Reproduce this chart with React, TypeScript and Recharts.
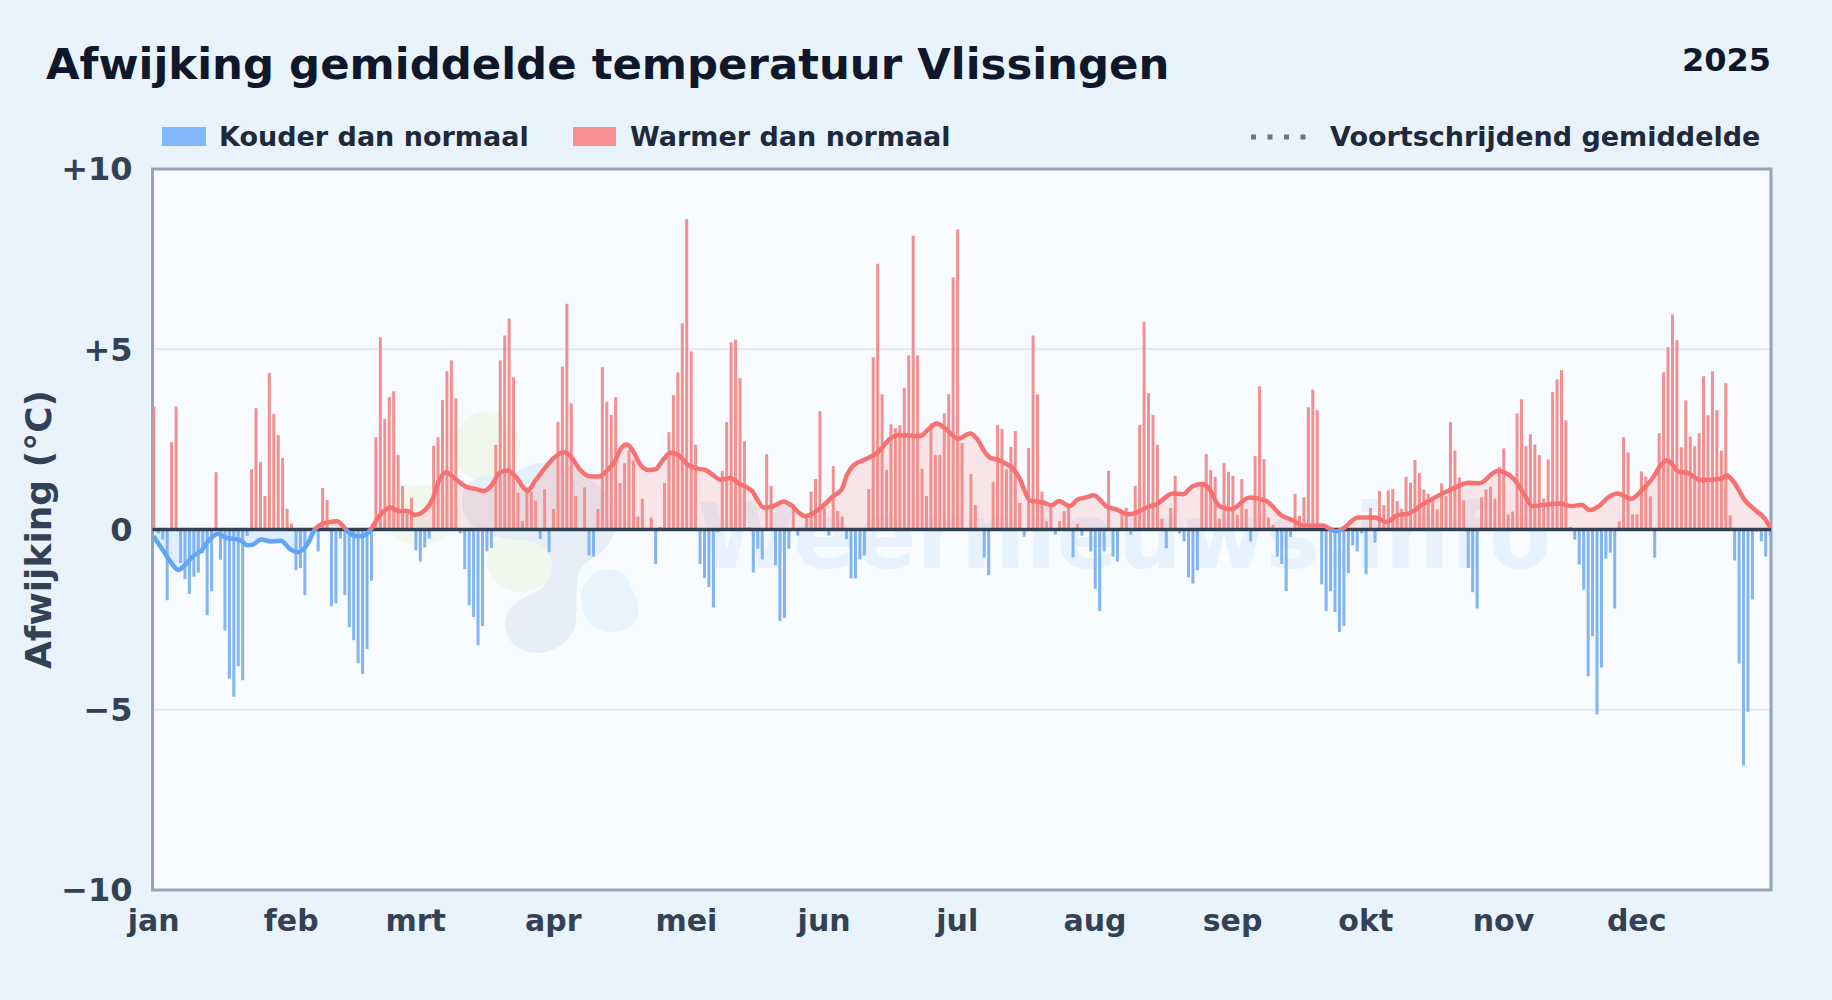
import { Area, Bar, CartesianGrid, ComposedChart, Line, ReferenceArea, ReferenceLine, XAxis, YAxis } from 'recharts';

const fontFamily = '"DejaVu Sans", sans-serif';

const monthLabels = ['jan', 'feb', 'mrt', 'apr', 'mei', 'jun', 'jul', 'aug', 'sep', 'okt', 'nov', 'dec'];
const monthStarts = [0, 31, 59, 90, 120, 151, 181, 212, 243, 273, 304, 334];
const yTicks = [-10, -5, 0, 5, 10];
const dayDomain = [-0.25, 364.25];

// afwijking per dag (deg C)
const dailyAnomaly = [
    3.41, -0.11, -0.28, -1.96, 2.42, 3.41, -0.93, -1.38, -1.79, -1.31,
    -1.19, -0.65, -2.38, -1.71, 1.59, -0.84, -2.8, -4.13, -4.64, -3.79,
    -4.18, -0.18, 1.67, 3.36, 1.87, 0.93, 4.34, 3.2, 2.62, 1.98,
    0.57, 0.16, -1.13, -1.07, -1.82, 0, 0, -0.61, 1.15, 0.82,
    -2.13, -2.05, -0.25, -1.82, -2.71, -3.07, -3.71, -4.01, -3.32, -1.42,
    2.56, 5.33, 3.07, 3.67, 3.83, 2.07, 1.21, 0.47, 0.88, -0.58,
    -0.89, -0.5, -0.25, 2.32, 2.56, 3.59, 4.39, 4.69, 3.64, -0.11,
    -1.1, -2.1, -2.43, -3.21, -2.68, -0.61, -0.51, 2.35, 4.69, 5.38,
    5.85, 4.22, 1.02, 0.24, 1.17, 1.05, 0.8, -0.26, 1.12, -0.63,
    0.57, 2.98, 4.52, 6.26, 3.5, 0.93, 0, 1.17, -0.72, -0.75,
    0.57, 4.5, 3.54, 3.18, 3.67, 1.29, 1.84, 2.2, 1.92, 0.36,
    0.85, 0, 0.33, -0.96, 0.07, 1.29, 2.7, 3.73, 4.36, 5.72,
    8.61, 4.94, 2.35, -0.96, -1.35, -1.6, -2.16, -0.08, 1.63, 2.98,
    5.19, 5.27, 4.2, 2.45, 0.07, -1.19, -0.53, -0.83, 2.09, 1.21,
    -0.99, -2.54, -2.46, -0.53, 0.7, -0.17, 0, 0.42, 1.05, 1.4,
    3.28, 0.6, -0.17, 1.76, 0.51, 0.36, -0.27, -1.36, -1.36, -0.83,
    -0.72, 1.12, 4.78, 7.37, 3.75, 1.65, 2.92, 2.81, 2.89, 3.93,
    4.83, 8.15, 4.83, 1.68, 0.93, 2.94, 2.07, 2.07, 3.22, 3.75,
    6.99, 8.32, 2.4, 0, 1.54, 0.68, 0, -0.78, -1.27, 1.32,
    2.9, 2.79, 1.67, 2.29, 2.73, 0.74, -0.2, 2.26, 5.38, 3.75,
    1.05, 0.23, 0.65, -0.14, 0.23, 0.51, 0.61, -0.77, 0.16, -0.17,
    0, -0.61, -1.65, -2.26, -0.61, 1.63, -0.75, -0.89, 0.44, 0.6,
    -0.14, 1.21, 2.9, 5.76, 3.78, 3.18, 2.35, 0.3, -0.52, 0.6,
    1.49, -0.11, -0.33, -1.33, -1.5, -1.13, 1.26, 2.09, 1.65, 1.46,
    0.3, 1.84, 1.6, 1.49, 0.41, 1.4, 0.57, -0.33, 2.04, 3.97,
    1.95, 0.33, 0.13, -0.75, -0.96, -1.71, -0.2, 0.99, 0.38, 0.9,
    3.39, 3.88, 3.31, -1.52, -2.26, -1.71, -2.29, -2.84, -2.68, -1.21,
    -0.44, -0.61, -0.11, -1.24, 0.6, -0.36, 1.07, 0.68, 1.09, 1.12,
    0.79, 0.57, 1.46, 1.3, 1.93, 1.56, 1.11, 0.99, 0.81, 0.56,
    1.28, 0.93, 2.98, 2.19, 1.44, 0.81, -1.07, -1.74, -2.19, 0.89,
    1.11, 1.19, 0.86, 1.74, 2.25, 0.42, 0.5, 3.22, 3.61, 2.31,
    2.64, 2.36, 2.06, 0.86, 1.94, 3.81, 4.17, 4.42, 3.03, 0.07,
    -0.28, -0.97, -1.67, -4.07, -2.96, -5.13, -3.83, -0.81, -0.64, -2.19,
    0.22, 2.56, 2.14, 0.42, 0.42, 1.61, 1.47, 0.92, -0.78, 2.67,
    4.36, 5.06, 5.97, 5.25, 2.28, 3.58, 2.58, 2.31, 2.67, 4.25,
    3.17, 4.39, 3.31, 2.19, 4.06, 0.39, -0.86, -3.72, -6.55, -5.06,
    -1.94, -0.06, -0.33, -0.75, -0.17,
];

const smoothDays = [
    0, 2.5, 4.3, 5.5, 7, 8.8, 10.7, 12.6, 14.5, 16.3, 19.3, 21.2, 22.3, 24.2, 26.5, 28.7, 30.6, 32.5, 34, 35, 36,
    38, 39.6, 41.3, 43, 44, 46, 47.5, 49, 50.8, 53.3, 55.3, 57.2, 58.8, 61.3, 62.8, 64.3, 65.8, 68, 70.3, 72.6, 74.4,
    76.3, 77.8, 79.7, 81.6, 84.2, 86, 88.3, 90.2, 92.4, 93.9, 96.1, 98, 100.3, 102.5, 104, 105.2, 106.6, 108.1, 109.6,
    111.5, 113, 114.9, 116.4, 118.3, 120.1, 122, 124.3, 126.1, 127.6, 129.9, 132, 134.8, 135.9, 137.4, 139.6, 141.9,
    143.8, 145.6, 146.8, 149.8, 153.1, 155, 156.1, 157.6, 160.6, 163.2, 165.9, 167.7, 172.6, 174.5, 176.4, 178.3,
    181.2, 183.9, 185.4, 187.2, 188.4, 190.2, 191.5, 193.6, 195.1, 196.2, 197.3, 200.3, 202.2, 203.9, 206.3, 208.2,
    210, 211.7, 213, 214.6, 216.8, 219.5, 221.3, 223.6, 225.8, 229.6, 231.8, 234, 236.3, 237.8, 240, 242.7, 246.8,
    250.6, 254, 256.6, 258.8, 263.3, 264.7, 266.3, 267.8, 271.2, 275, 277.6, 280.2, 282.8, 285.2, 288, 291.8, 296.3,
    298.5, 302.7, 306.4, 308.7, 310.5, 316.5, 319.5, 321.6, 323.4, 325.5, 327.8, 329.7, 332.7, 335.3, 337.9, 339,
    340.9, 343.5, 345.4, 348.4, 352.9, 354.4, 355.9, 358.5, 360.4, 363.8, 364,
];
const smoothValues = [
    -0.19, -0.65, -0.98, -1.12, -1.0, -0.75, -0.59, -0.28, -0.12, -0.23, -0.28, -0.44, -0.42, -0.28, -0.33, -0.31, -0.53, -0.63, -0.51, -0.33, -0.06,
    0.16, 0.21, 0.23, 0.05, -0.09, -0.19, -0.16, 0.02, 0.37, 0.61, 0.51, 0.51, 0.4, 0.56, 0.84, 1.36, 1.59, 1.4, 1.19, 1.12, 1.07,
    1.26, 1.56, 1.64, 1.45, 1.07, 1.36, 1.73, 1.99, 2.15, 2.03, 1.65, 1.48, 1.47, 1.68, 1.92, 2.24, 2.36, 2.15, 1.8,
    1.65, 1.67, 1.96, 2.12, 2.06, 1.82, 1.7, 1.65, 1.5, 1.38, 1.43, 1.26, 1.07, 0.84, 0.61, 0.65, 0.78,
    0.65, 0.44, 0.37, 0.56, 0.93, 1.12, 1.5, 1.78, 1.96, 2.15, 2.52, 2.62, 2.59, 2.78, 2.94, 2.8,
    2.52, 2.66, 2.52, 2.15, 1.99, 1.93, 1.85, 1.68, 1.4, 1.07, 0.81, 0.75, 0.67, 0.79, 0.65, 0.84,
    0.89, 0.95, 0.84, 0.64, 0.56, 0.42, 0.47, 0.61, 0.7, 1.0, 0.98, 1.2, 1.26, 1.12, 0.65, 0.56, 0.89,
    0.79, 0.39, 0.25, 0.11, 0.11, 0.03, -0.05, 0.02, 0.33, 0.33, 0.21, 0.4, 0.45, 0.65, 0.85, 1.09, 1.3,
    1.28, 1.62, 1.39, 0.97, 0.65, 0.72, 0.65, 0.69, 0.54, 0.65, 0.91, 1.0, 0.85, 1.11, 1.48, 1.71,
    1.92, 1.6, 1.57, 1.37, 1.41, 1.5, 1.31, 0.79, 0.57, 0.11, 0.05,
];

const dayRows = dailyAnomaly.map((v, day) => ({ day, warm: v > 0 ? v : null, cold: v < 0 ? v : null }));
const smoothRows = smoothDays.map((day, i) => ({ smoothDay: day, smooth: smoothValues[i] }));

const maxSmooth = Math.max(...smoothValues);
const minSmooth = Math.min(...smoothValues);
const zeroOffset = maxSmooth / (maxSmooth - minSmooth);

const xTickStyle = { fontSize: 30, fontWeight: 700, fill: '#334155', fontFamily };
const yTickStyle = { fontSize: 32, fontWeight: 700, fill: '#334155', fontFamily };
const legendStyle = { fontSize: 27, fontWeight: 700, fill: '#1e293b', fontFamily };

function formatY(v: number) {
    if (v > 0) return `+${v}`;
    if (v < 0) return `\u2212${Math.abs(v)}`;
    return '0';
}

export default function App() {
    return (
        <div style={{ position: 'relative', width: 1832, height: 1000, background: '#e9f3fc', overflow: 'hidden' }}>
            <style>{'body { margin: 0; }'}</style>

            {/* achtergrond, watermerk, titel en legenda */}
            <svg width={1832} height={1000} style={{ position: 'absolute', left: 0, top: 0 }}>
                <rect x={152.5} y={169} width={1618.5} height={721} fill="#f8fbff" />
                <g opacity={0.7}>
                    <ellipse cx={487} cy={447} rx={33} ry={36} fill="#eef7e6" />
                    <ellipse cx={420} cy={515} rx={36} ry={30} fill="#eef7e6" />
                    <ellipse cx={521} cy={562} rx={34} ry={30} fill="#eef7e6" />
                    <path d="M462 500 C462 478 490 470 510 478 C530 455 570 460 590 480 C625 500 625 540 590 560 C570 570 580 600 575 625 C570 650 530 665 510 640 C495 615 515 600 540 590 C560 570 555 545 525 540 C490 540 462 530 462 500 Z" fill="#dfe9f5" />
                    <path d="M582 590 C590 565 625 560 632 590 C645 610 640 632 610 632 C590 632 578 610 582 590 Z" fill="#e2f0fd" />
                </g>
                <text x={697} y={568} fontSize={90.5} fontWeight={700} fontFamily={fontFamily} fill="#3b82f6" opacity={0.08}>
                    Weernieuws.info
                </text>

                <text x={46} y={79} fontSize={43.4} fontWeight={700} fontFamily={fontFamily} fill="#0f172a">
                    Afwijking gemiddelde temperatuur Vlissingen
                </text>
                <text x={1771} y={71} textAnchor="end" fontSize={32} fontWeight={700} fontFamily={fontFamily} fill="#0f172a">
                    2025
                </text>

                <rect x={162} y={127} width={44} height={19} fill="#82b7fb" />
                <text x={219} y={146} {...legendStyle}>Kouder dan normaal</text>
                <rect x={573} y={127} width={43} height={19} fill="#f98f92" />
                <text x={630} y={146} {...legendStyle}>Warmer dan normaal</text>
                <line x1={1251} x2={1310} y1={137} y2={137} stroke="#64748b" strokeWidth={5} strokeDasharray="5 11.5" />
                <text x={1330} y={146} {...legendStyle}>Voortschrijdend gemiddelde</text>
            </svg>

            <div style={{ position: 'absolute', left: 0, top: 0 }}>
                <ComposedChart
                    width={1832}
                    height={1000}
                    data={dayRows}
                    stackOffset="sign"
                    margin={{ top: 169, right: 61, left: 0, bottom: 50 }}
                >
                    <defs>
                        <linearGradient id="smoothStroke" x1="0" y1="0" x2="0" y2="1">
                            <stop offset={zeroOffset} stopColor="#f87171" />
                            <stop offset={zeroOffset} stopColor="#60a5fa" />
                        </linearGradient>
                        <linearGradient id="smoothFill" x1="0" y1="0" x2="0" y2="1">
                            <stop offset={zeroOffset} stopColor="#f87171" stopOpacity={0.16} />
                            <stop offset={zeroOffset} stopColor="#60a5fa" stopOpacity={0.16} />
                        </linearGradient>
                    </defs>
                    <CartesianGrid vertical={false} stroke="#e2e8f0" strokeWidth={2} />
                    <XAxis
                        dataKey="day"
                        type="number"
                        domain={dayDomain}
                        ticks={monthStarts}
                        interval={0}
                        allowDataOverflow
                        height={60}
                        tick={xTickStyle}
                        tickLine={false}
                        axisLine={false}
                        tickMargin={14}
                        tickFormatter={(v: number) => monthLabels[monthStarts.indexOf(v)]}
                    />
                    {/* eigen as voor de lijn: de knikpunten vallen tussen de dagen */}
                    <XAxis xAxisId="smooth" dataKey="smoothDay" type="number" domain={dayDomain} allowDataOverflow hide />
                    <YAxis
                        type="number"
                        domain={[-10, 10]}
                        ticks={yTicks}
                        interval={0}
                        width={152.5}
                        tick={yTickStyle}
                        tickLine={false}
                        axisLine={false}
                        tickMargin={14}
                        tickFormatter={formatY}
                        label={{
                            value: 'Afwijking (°C)',
                            angle: -90,
                            position: 'insideLeft',
                            offset: 38,
                            style: { fontSize: 36, fontWeight: 700, fill: '#334155', fontFamily, textAnchor: 'middle' },
                        }}
                    />
                    <Area
                        xAxisId="smooth"
                        data={smoothRows}
                        dataKey="smooth"
                        type="monotone"
                        baseValue={0}
                        stroke="none"
                        fill="url(#smoothFill)"
                        fillOpacity={1}
                        dot={false}
                        activeDot={false}
                        isAnimationActive={false}
                    />
                    <Bar dataKey="warm" stackId="day" barSize={3} fill="#f48f8f" isAnimationActive={false} />
                    <Bar dataKey="cold" stackId="day" barSize={3} fill="#80b4f2" isAnimationActive={false} />
                    <ReferenceLine y={0} stroke="#334155" strokeWidth={3.5} />
                    <Line
                        xAxisId="smooth"
                        data={smoothRows}
                        dataKey="smooth"
                        type="monotone"
                        stroke="url(#smoothStroke)"
                        strokeWidth={4.5}
                        dot={false}
                        activeDot={false}
                        isAnimationActive={false}
                    />
                    <ReferenceArea x1={dayDomain[0]} x2={dayDomain[1]} y1={-10} y2={10} fill="none" stroke="#94a3b8" strokeWidth={3} ifOverflow="visible" />
                </ComposedChart>
            </div>
        </div>
    );
}
